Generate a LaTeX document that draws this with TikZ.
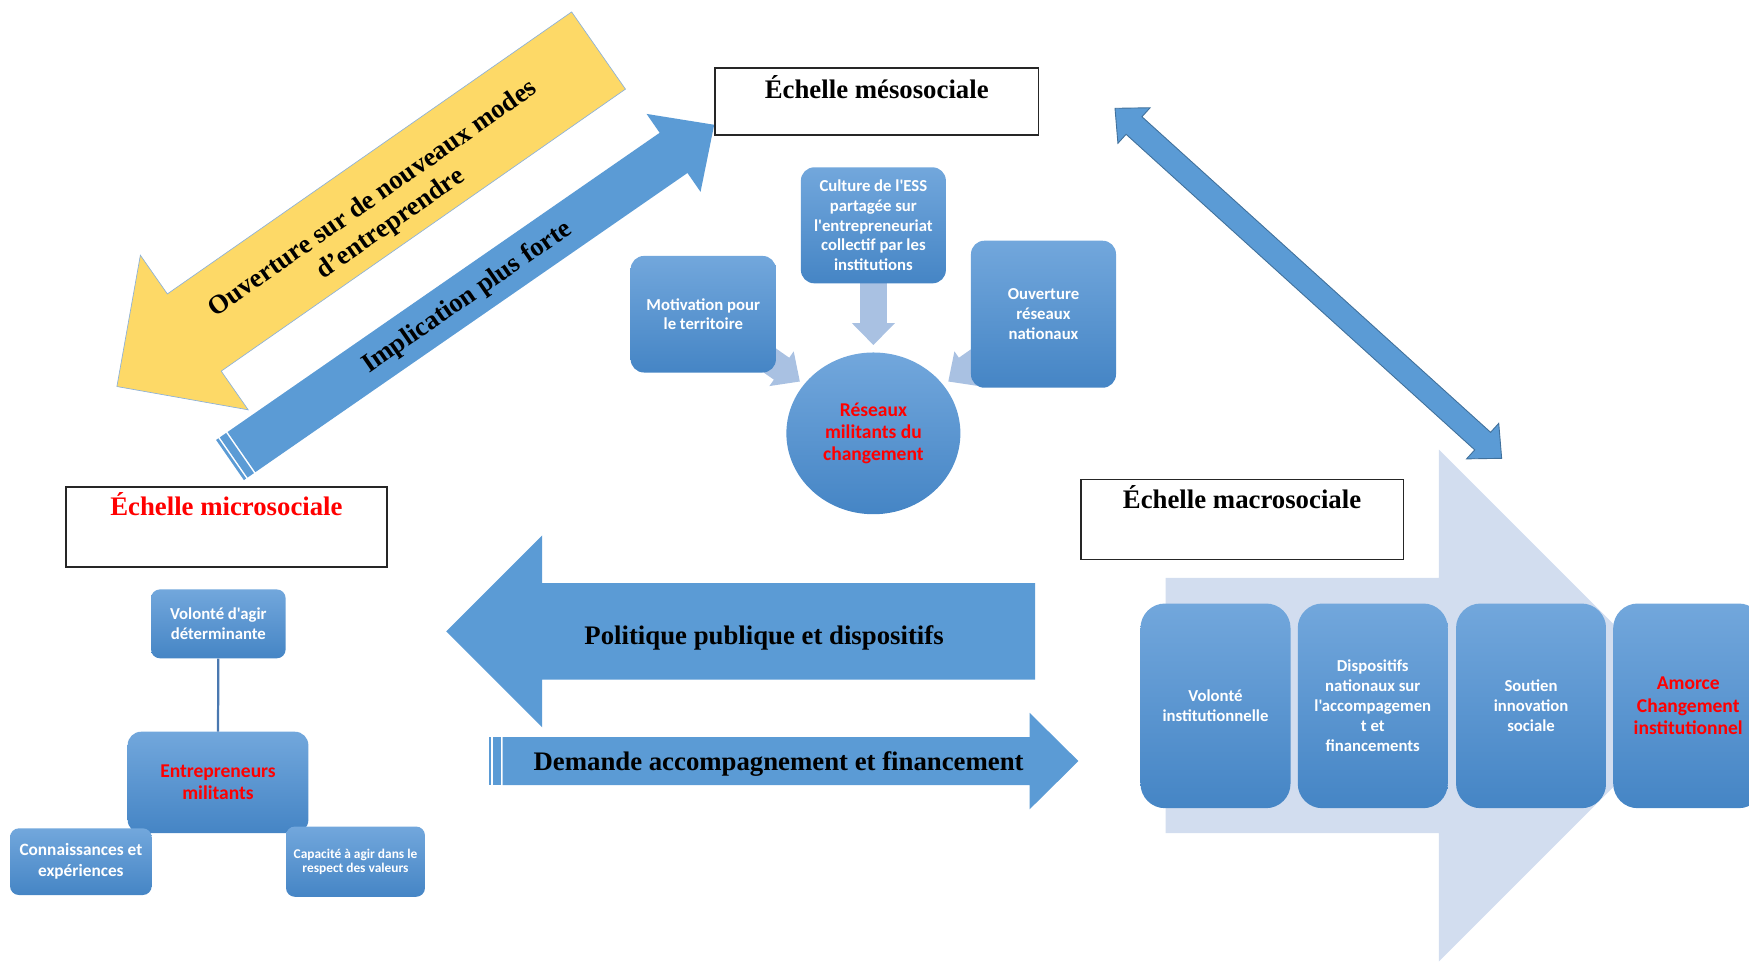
\documentclass[tikz,border=0pt]{standalone}
\usepackage{fontspec}
\usetikzlibrary{shapes.geometric}
\newfontfamily\tnr{Liberation Serif}
\newfontfamily\calib{Carlito}
\definecolor{boxtop}{HTML}{72A7DC}
\definecolor{boxbot}{HTML}{4585C5}
\definecolor{arrblue}{HTML}{5B9BD5}
\definecolor{arrline}{HTML}{41719C}
\definecolor{lightarr}{HTML}{A9C1E2}
\definecolor{macrofill}{HTML}{D2DDEF}
\definecolor{yell}{HTML}{FDD967}
\definecolor{yellline}{HTML}{8CB1DA}
\definecolor{redtxt}{HTML}{FF0000}
\definecolor{connblue}{HTML}{4A78B0}
\tikzset{
  pics/barrow/.style args={#1/#2/#3/#4}{code={
    \path[pic actions] (0,-#2) -- ({#1-#4},-#2) -- ({#1-#4},-#3) -- (#1,0)
      -- ({#1-#4},#3) -- ({#1-#4},#2) -- (0,#2) -- cycle;
  }},
  pics/sarrow/.style args={#1/#2/#3/#4}{code={
    \path[pic actions] (0,-#2) rectangle (2.5,#2);
    \path[pic actions] (4,-#2) rectangle (11,#2);
    \path[pic actions] (12.5,-#2) -- ({#1-#4},-#2) -- ({#1-#4},-#3) -- (#1,0)
      -- ({#1-#4},#3) -- ({#1-#4},#2) -- (12.5,#2) -- cycle;
  }},
  pics/dbarrow/.style args={#1/#2/#3/#4}{code={
    \path[pic actions] (0,0) -- (#4,-#3) -- (#4,-#2) -- ({#1-#4},-#2) -- ({#1-#4},-#3)
      -- (#1,0) -- ({#1-#4},#3) -- ({#1-#4},#2) -- (#4,#2) -- (#4,#3) -- cycle;
  }},
  sbox/.style={rounded corners=#1, top color=boxtop, bottom color=boxbot, draw=none,
    text=white, align=center, inner sep=2pt,
    font=\calib\bfseries\fontsize{15}{17.8}\selectfont},
  titlebox/.style={draw=black!85, line width=1.3pt, fill=white, inner sep=0pt},
  titletext/.style={font=\tnr\bfseries\fontsize{24}{27.6}\selectfont, inner sep=0pt},
  bigred/.style={text=redtxt, font=\calib\bfseries\fontsize{17.5}{20}\selectfont},
}
\begin{document}
\begin{tikzpicture}[x=1pt,y=-1pt]
\useasboundingbox (0,0) rectangle (1568,865);
\clip (0,0) rectangle (1568,865);

% macro background arrow
\pic[fill=macrofill] at (1045,632.5) {barrow={474.5/114.5/229.5/229.5}};

% double arrow meso <-> macro
\pic[rotate=-42.15, fill=arrblue, draw=arrline, line width=0.8pt] at (999.6,97.1) {dbarrow={467.6/10.6/21.5/23}};

% yellow arrow
\pic[rotate=214.9, fill=yell, draw=yellline, line width=0.6pt] at (536.6,45.3) {barrow={526.5/42.2/84.5/84.6}};
\node[titletext, rotate=34.9, align=center] (ouvtxt) at (342.5,190) {Ouverture sur de nouveaux modes\\d’entreprendre};

% implication arrow
\pic[rotate=34.7, fill=arrblue] at (206.2,412.4) {sarrow={528/21.9/42.5/44.3}};
\node[titletext, rotate=34.7] (impltxt) at (419,267) {Implication plus forte};

% title boxes
\node[titlebox, minimum width=290pt, minimum height=60pt] (mesobox) at (786,91) {};
\node[titletext, anchor=base] (mesotitle) at (786,88) {Échelle mésosociale};
\node[titlebox, minimum width=289.5pt, minimum height=71.5pt] (macrobox) at (1113.7,465.7) {};
\node[titletext, anchor=base] (macrotitle) at (1113.5,455.6) {Échelle macrosociale};
\node[titlebox, minimum width=288pt, minimum height=72pt] (microbox) at (203,472.5) {};
\node[titletext, anchor=base, text=redtxt] (microtitle) at (203,462) {Échelle microsociale};

% meso light arrows
\pic[rotate=-90, fill=lightarr] at (783,250) {barrow={59.3/12/19.25/19.6}};
\pic[rotate=-35, fill=lightarr] at (667.9,307.6) {barrow={60/12/19/20}};
\pic[rotate=215, fill=lightarr] at (899.3,307.6) {barrow={60/12/19/20}};

% meso boxes
\node[sbox=12pt, minimum width=130pt, minimum height=104pt] (culture) at (783,202)
  {Culture de l'ESS\\partagée sur\\l'entrepreneuriat\\collectif par les\\institutions};
\node[sbox=12pt, minimum width=130.3pt, minimum height=104.5pt] (motiv) at (630.5,281.7)
  {Motivation pour\\le territoire};
\node[sbox=12pt, minimum width=130pt, minimum height=131.8pt] (ouvert) at (935.5,281.7)
  {Ouverture\\réseaux\\nationaux};
\node[ellipse, top color=boxtop, bottom color=boxbot, draw=none, align=center, bigred,
  minimum width=156pt, minimum height=145pt, inner sep=0pt] (reseaux) at (783,388.5)
  {Réseaux\\militants du\\changement};

% micro
\node[sbox=8pt, minimum width=120.7pt, minimum height=61.8pt] (volonte) at (195.75,559.3)
  {Volonté d'agir\\déterminante};
\node[sbox=12pt, bigred, minimum width=162pt, minimum height=91pt] (entre) at (195.45,701.5)
  {Entrepreneurs\\militants};
\draw[connblue, line width=2pt] (volonte.south) -- (entre.north);
\node[sbox=8pt, minimum width=127pt, minimum height=59.8pt,
  font=\calib\bfseries\fontsize{15.5}{18.8}\selectfont] (connais) at (72.5,772.5)
  {Connaissances et\\expériences};
\node[sbox=8pt, minimum width=124.6pt, minimum height=63pt,
  font=\calib\bfseries\fontsize{12}{12}\selectfont] (capac) at (318.7,772.5)
  {Capacité à agir dans le\\respect des valeurs};

% horizontal arrows
\pic[rotate=180, fill=arrblue] at (928,566) {barrow={528/43.3/86/86}};
\node[titletext, anchor=base] (polit) at (685,578) {Politique publique et dispositifs};
\pic[fill=arrblue] at (438,682.3) {sarrow={528.8/21.5/43.3/43.8}};
\node[titletext, anchor=base] (demande) at (698,690.4) {Demande accompagnement et financement};

% macro boxes
\node[sbox=22pt, minimum width=134.5pt, minimum height=183.5pt] (volinst) at (1089.7,632.8)
  {Volonté\\institutionnelle};
\node[sbox=22pt, minimum width=134.5pt, minimum height=183.5pt] (dispo) at (1230.7,632.8)
  {Dispositifs\\nationaux sur\\l'accompagemen\\t et\\financements};
\node[sbox=22pt, minimum width=134.5pt, minimum height=183.5pt] (soutien) at (1372.6,632.8)
  {Soutien\\innovation\\sociale};
\node[sbox=22pt, bigred, minimum width=134.5pt, minimum height=183.5pt] (amorce) at (1513.5,632.8)
  {Amorce\\Changement\\institutionnel};
\end{tikzpicture}
\end{document}
